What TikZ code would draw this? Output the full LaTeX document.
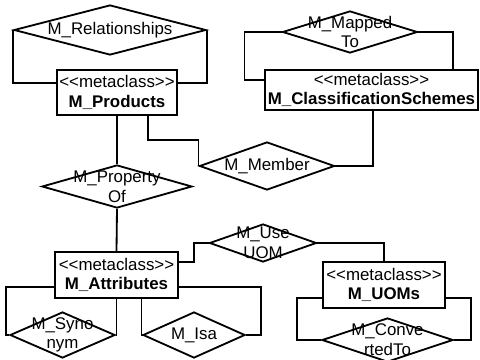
\documentclass[tikz,border=0pt]{standalone}
\usepackage{fontspec}
\usepackage{tikz}
\usetikzlibrary{shapes.geometric, positioning, calc}
\newfontfamily\diagfont{Liberation Sans}
\newcommand{\metacls}{<\kern0pt<metaclass>\kern0pt>}

\begin{document}
\begin{tikzpicture}[x=0.025cm, y=-0.025cm,
          every node/.style={font=\diagfont\fontsize{12}{14}\selectfont},
          cls/.style={rectangle, draw, line width=1.5pt, inner sep=0pt,
                      align=center},
          rel/.style={diamond, draw, line width=1.3pt, inner sep=0pt},
          dlbl/.style={align=center, inner sep=0pt},
          conn/.style={line width=1.3pt}
        ]
        \useasboundingbox (0,0) rectangle (480,360);
        % Metaclass boxes
        \node[cls, minimum width=3cm, minimum height=1.125cm]
              (prod) at (117, 92.5) {\metacls\\\textbf{M\_Products}};
        \node[cls, minimum width=5.325cm, minimum height=1cm]
              (schemes) at (371.5, 90) {\metacls\\\textbf{M\_ClassificationSchemes}};
        \node[cls, minimum width=3.075cm, minimum height=1.15cm]
              (attr) at (116.5, 275) {\metacls\\\textbf{M\_Attributes}};
        \node[cls, minimum width=3.05cm, minimum height=1.15cm]
              (uoms) at (384, 285) {\metacls\\\textbf{M\_UOMs}};
        % Relationship diamonds
        \node[rel, minimum width=4.8cm, minimum height=1.25cm,
              label={[dlbl]center:M\_Relationships}] (relships) at (110, 30) {};
        \node[rel, minimum width=3.375cm, minimum height=1.05cm,
              label={[dlbl]center:{M\_Mapped\\To}}] (mapped) at (350, 32) {};
        \node[rel, minimum width=3.375cm, minimum height=1.2cm,
              label={[dlbl]center:M\_Member}] (member) at (267, 166) {};
        \node[rel, minimum width=3.75cm, minimum height=1.075cm,
              label={[dlbl]center:{M\_Property\\Of}}] (propof) at (117, 186.5) {};
        \node[rel, minimum width=2.675cm, minimum height=0.95cm,
              label={[dlbl]center:{M\_Use\\UOM}}] (useuom) at (263, 243) {};
        \node[rel, minimum width=3.275cm, minimum height=1.1cm,
              label={[dlbl]center:{M\_Conve\\rtedTo}}] (convto) at (387.5, 340) {};
        \node[rel, minimum width=2.625cm, minimum height=1.15cm,
              label={[dlbl]center:{M\_Syno\\nym}}] (synonym) at (62.5, 335) {};
        \node[rel, minimum width=2.55cm, minimum height=1.15cm,
              label={[dlbl]center:M\_Isa}] (isa) at (194, 335) {};

        % M_Products links
        \draw[conn] (relships.west) |- ($(prod.west)+(0,-9.5)$);
        \draw[conn] (relships.east) |- ($(prod.east)+(0,-9.5)$);
        \draw[conn] (prod.south) -- (propof.north);
        \draw[conn] ($(prod.south)+(31,0)$) |- ($(member.west)+(0,-26)$)
              -- (member.west);
        \draw[conn] (member.east) -| ($(schemes.south)+(1.5,0)$);
        % M_ClassificationSchemes loop
        \draw[conn] (mapped.west) -- ++(-37,0) |- ($(schemes.west)+(0,-10)$);
        \draw[conn] (mapped.east) -| ($(schemes.north)+(81.5,0)$);
        % M_Attributes links
        \draw[conn] (propof.south) -- (attr.north);
        \draw[conn] ($(attr.east)+(0,-13)$) -- ++(15,0) |- (useuom.west);
        \draw[conn] (useuom.east) -| (uoms.north);
        \draw[conn] ($(attr.west)+(0,12)$) -- ++(-48,0) |- (synonym.west);
        \draw[conn] (attr.south) |- (synonym.east);
        \draw[conn] ($(attr.south)+(25,0)$) |- (isa.west);
        \draw[conn] ($(attr.east)+(0,12)$) -- ++(82,0) |- (isa.east);
        % M_UOMs loop
        \draw[conn] ($(uoms.west)+(0,13)$) -- ++(-25,0) |- (convto.west);
        \draw[conn] ($(uoms.east)+(0,13)$) -- ++(25,0) |- (convto.east);
      \end{tikzpicture}
\end{document}
